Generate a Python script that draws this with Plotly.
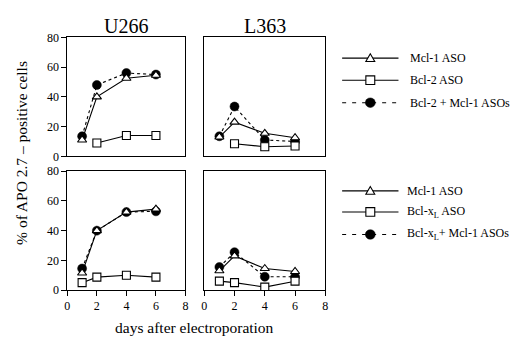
import plotly.graph_objects as go

W, H = 520, 337

days = [1, 2, 4, 6]
days_from2 = [2, 4, 6]

# Top row (Bcl-2 experiments)
u266_mcl1 = [11, 40, 52.5, 54.5]
u266_bcl2 = [9, 14, 14]
u266_combo = [13.5, 48, 56, 55]

l363_mcl1 = [13, 23, 15.5, 12.5]
l363_bcl2 = [8.5, 6.5, 7]
l363_combo = [13.5, 33.5, 11, 10]

# Bottom row (Bcl-xL experiments)
u266b_mcl1 = [11.5, 40, 52.5, 54.5]
u266b_bclxl = [5, 8.7, 10, 8.7]
u266b_combo = [14.5, 40, 52.5, 53]

l363b_mcl1 = [13, 23, 14.5, 12.5]
l363b_bclxl = [6, 5, 2, 6]
l363b_combo = [15.5, 25.5, 9, 9]

titles = ["U266", "L363"]
y_ticks = [0, 20, 40, 60, 80]
x_ticks = [0, 2, 4, 6, 8]

legend_top = ["Mcl-1 ASO", "Bcl-2 ASO", "Bcl-2 + Mcl-1 ASOs"]
legend_bot = ["Mcl-1 ASO", "Bcl-x<sub>L</sub> ASO", "Bcl-x<sub>L</sub>+ Mcl-1 ASOs"]

FONT = "Liberation Serif, Times New Roman, serif"

def px(x):
    return x / W

def py(y):
    return 1 - y / H

fig = go.Figure()

tri = dict(symbol="triangle-up", size=8, color="white", line=dict(color="black", width=1.1))
sq = dict(symbol="square", size=8, color="white", line=dict(color="black", width=1.1))
circ = dict(symbol="circle", size=9, color="black", line=dict(color="black", width=0.5))
solid = dict(color="black", width=1.1)
dashed = dict(color="black", width=1.1, dash="3px,3px")

panels = [
    ("x", "y", days, u266_mcl1, days_from2, u266_bcl2, days, u266_combo),
    ("x2", "y2", days, l363_mcl1, days_from2, l363_bcl2, days, l363_combo),
    ("x3", "y3", days, u266b_mcl1, days, u266b_bclxl, days, u266b_combo),
    ("x4", "y4", days, l363b_mcl1, days, l363b_bclxl, days, l363b_combo),
]

for xa, ya, dx1, v1, dx2, v2, dx3, v3 in panels:
    fig.add_trace(go.Scatter(x=dx3, y=v3, mode="lines+markers", line=dashed, marker=circ,
                             xaxis=xa, yaxis=ya, showlegend=False))
    fig.add_trace(go.Scatter(x=dx2, y=v2, mode="lines+markers", line=solid, marker=sq,
                             xaxis=xa, yaxis=ya, showlegend=False))
    fig.add_trace(go.Scatter(x=dx1, y=v1, mode="lines+markers", line=solid, marker=tri,
                             xaxis=xa, yaxis=ya, showlegend=False))

xl, xr = px(57), px(176.5)
x2l, x2r = px(195.5), px(318)
ytop = [py(147.5), py(23.3)]
ybot = [py(287), py(163)]

base_ax = dict(showline=True, linecolor="black", linewidth=1, mirror=True, showgrid=False,
               zeroline=False, tickfont=dict(family=FONT, size=12, color="black"))

def xaxis(dom, anchor, labels):
    d = dict(base_ax, domain=dom, anchor=anchor, range=[0, 8], tickvals=x_ticks)
    if labels:
        d.update(ticks="outside", ticklen=5, tickcolor="black", showticklabels=True)
    else:
        d.update(ticks="", showticklabels=False)
    return d

def yaxis(dom, anchor, labels):
    d = dict(base_ax, domain=dom, anchor=anchor, range=[0, 80], tickvals=y_ticks)
    if labels:
        d.update(ticks="outside", ticklen=5, tickcolor="black", showticklabels=True)
    else:
        d.update(ticks="", showticklabels=False)
    return d

# ---- hand-drawn legends (layout only) ----
shapes = []
annotations = []

def legend_block(rows_y, names, text_x):
    lx0, lx1, mx = 335, 392, 363.5
    kinds = ["tri", "sq", "circ"]
    for ry, name, kind in zip(rows_y, names, kinds):
        dash = "4px,6px" if kind == "circ" else "solid"
        shapes.append(dict(type="line", xref="paper", yref="paper", x0=px(lx0), x1=px(lx1),
                           y0=py(ry), y1=py(ry), line=dict(color="black", width=1.1, dash=dash),
                           layer="above"))
        if kind == "tri":
            path = "M{},{} L{},{} L{},{} Z".format(px(mx), py(ry - 4.5), px(mx - 4.5), py(ry + 3.5),
                                                  px(mx + 4.5), py(ry + 3.5))
            shapes.append(dict(type="path", xref="paper", yref="paper", path=path,
                               fillcolor="white", line=dict(color="black", width=1.1), layer="above"))
        elif kind == "sq":
            shapes.append(dict(type="rect", xref="paper", yref="paper", x0=px(mx - 4.5), x1=px(mx + 4.5),
                               y0=py(ry + 4.5), y1=py(ry - 4.5), fillcolor="white",
                               line=dict(color="black", width=1.1), layer="above"))
        else:
            shapes.append(dict(type="circle", xref="paper", yref="paper", x0=px(mx - 5), x1=px(mx + 5),
                               y0=py(ry + 5), y1=py(ry - 5), fillcolor="black",
                               line=dict(color="black", width=0.5), layer="above"))
        annotations.append(dict(text=name, x=px(text_x), y=py(ry), xref="paper", yref="paper",
                                showarrow=False, xanchor="left", yanchor="middle", align="left",
                                borderpad=0,
                                font=dict(family=FONT, size=12, color="black")))

legend_block([45, 68, 91.5], legend_top, 403)
legend_block([183.5, 205.5, 229], legend_bot, 400)

annotations += [
    dict(text=titles[0], x=(xl + xr) / 2, y=py(11), xref="paper", yref="paper",
         showarrow=False, font=dict(family=FONT, size=20, color="black"),
         xanchor="center", yanchor="middle"),
    dict(text=titles[1], x=(x2l + x2r) / 2, y=py(11), xref="paper", yref="paper",
         showarrow=False, font=dict(family=FONT, size=20, color="black"),
         xanchor="center", yanchor="middle"),
    dict(text="% of APO 2.7 \u2013 positive cells", x=px(10), y=py(144), xref="paper",
         yref="paper", showarrow=False, textangle=-90,
         font=dict(family=FONT, size=15.5, color="black"),
         xanchor="center", yanchor="middle"),
    dict(text="days after electroporation", x=px(186), y=py(326), xref="paper",
         yref="paper", showarrow=False, font=dict(family=FONT, size=15.5, color="black"),
         xanchor="center", yanchor="middle"),
]

fig.update_layout(
    width=W, height=H,
    margin=dict(l=0, r=0, t=0, b=0),
    paper_bgcolor="white", plot_bgcolor="white",
    showlegend=False,
    xaxis=xaxis([xl, xr], "y", False),
    yaxis=yaxis(ytop, "x", True),
    xaxis2=xaxis([x2l, x2r], "y2", False),
    yaxis2=yaxis(ytop, "x2", False),
    xaxis3=xaxis([xl, xr], "y3", True),
    yaxis3=yaxis(ybot, "x3", True),
    xaxis4=xaxis([x2l, x2r], "y4", True),
    yaxis4=yaxis(ybot, "x4", False),
    shapes=shapes,
    annotations=annotations,
)

fig.write_html("out.html")
